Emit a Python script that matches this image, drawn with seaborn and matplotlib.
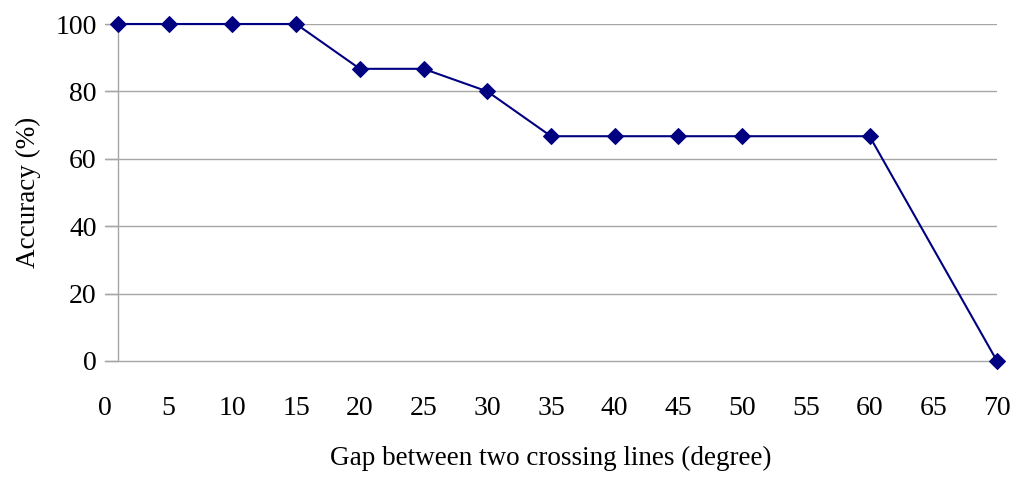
import numpy as np
import pandas as pd
import matplotlib
matplotlib.use('Agg')
import matplotlib.pyplot as plt
import seaborn as sns

# ---------------- data ----------------
gap = [1, 5, 10, 15, 20, 25, 30, 35, 40, 45, 50, 60, 70]
accuracy = [100, 100, 100, 100, 86.7, 86.7, 80, 66.7, 66.7, 66.7, 66.7, 66.7, 0]
x_ticks = list(range(0, 75, 5))
y_ticks = [0, 20, 40, 60, 80, 100]

df = pd.DataFrame({'gap': gap, 'accuracy': accuracy})

# ---------------- plot ----------------
sns.set_style('white')
plt.rcParams['font.family'] = ['Liberation Serif', 'DejaVu Serif']
plt.rcParams['text.color'] = 'black'
plt.rcParams['xtick.color'] = 'black'
plt.rcParams['ytick.color'] = 'black'
plt.rcParams['axes.labelcolor'] = 'black'
grid_col = '#a6a6a6'

fig = plt.figure(figsize=(10.24, 4.84), dpi=100)
ax = fig.add_axes([105/1024, 1 - 361/484, (997 - 105)/1024, (361 - 24)/484])

for yv in y_ticks[1:]:
    ax.axhline(yv, color=grid_col, lw=1, zorder=0)
ax.plot([1, 1], [0, 100], color=grid_col, lw=1, zorder=0)

sns.lineplot(data=df, x='gap', y='accuracy', ax=ax, color='#000080',
             marker='D', markersize=8, markeredgecolor='#000080', lw=1.5, zorder=3, clip_on=False)

ax.set_xlim(0, 70)
ax.set_ylim(0, 100)
for s in ['top', 'right', 'left']:
    ax.spines[s].set_visible(False)
ax.spines['bottom'].set_color(grid_col)
ax.spines['bottom'].set_linewidth(1)

ax.set_xticks(x_ticks)
ax.set_yticks(y_ticks)
ax.tick_params(axis='x', direction='in', length=8, color=grid_col, width=1, pad=25,
               labelsize=20, labelcolor='black')
ax.tick_params(axis='y', direction='out', length=0, labelsize=20, pad=6, labelcolor='black')
# short y ticks to the left of the x=1 axis
for yv in y_ticks:
    ax.plot([0, 1], [yv, yv], color=grid_col, lw=1, zorder=0, clip_on=False)

ax.set_xlabel('Gap between two crossing lines (degree)', fontsize=19.5, labelpad=18)
ax.set_ylabel('Accuracy (%)', fontsize=19.5, labelpad=10)

plt.savefig('out.png', dpi=100)
